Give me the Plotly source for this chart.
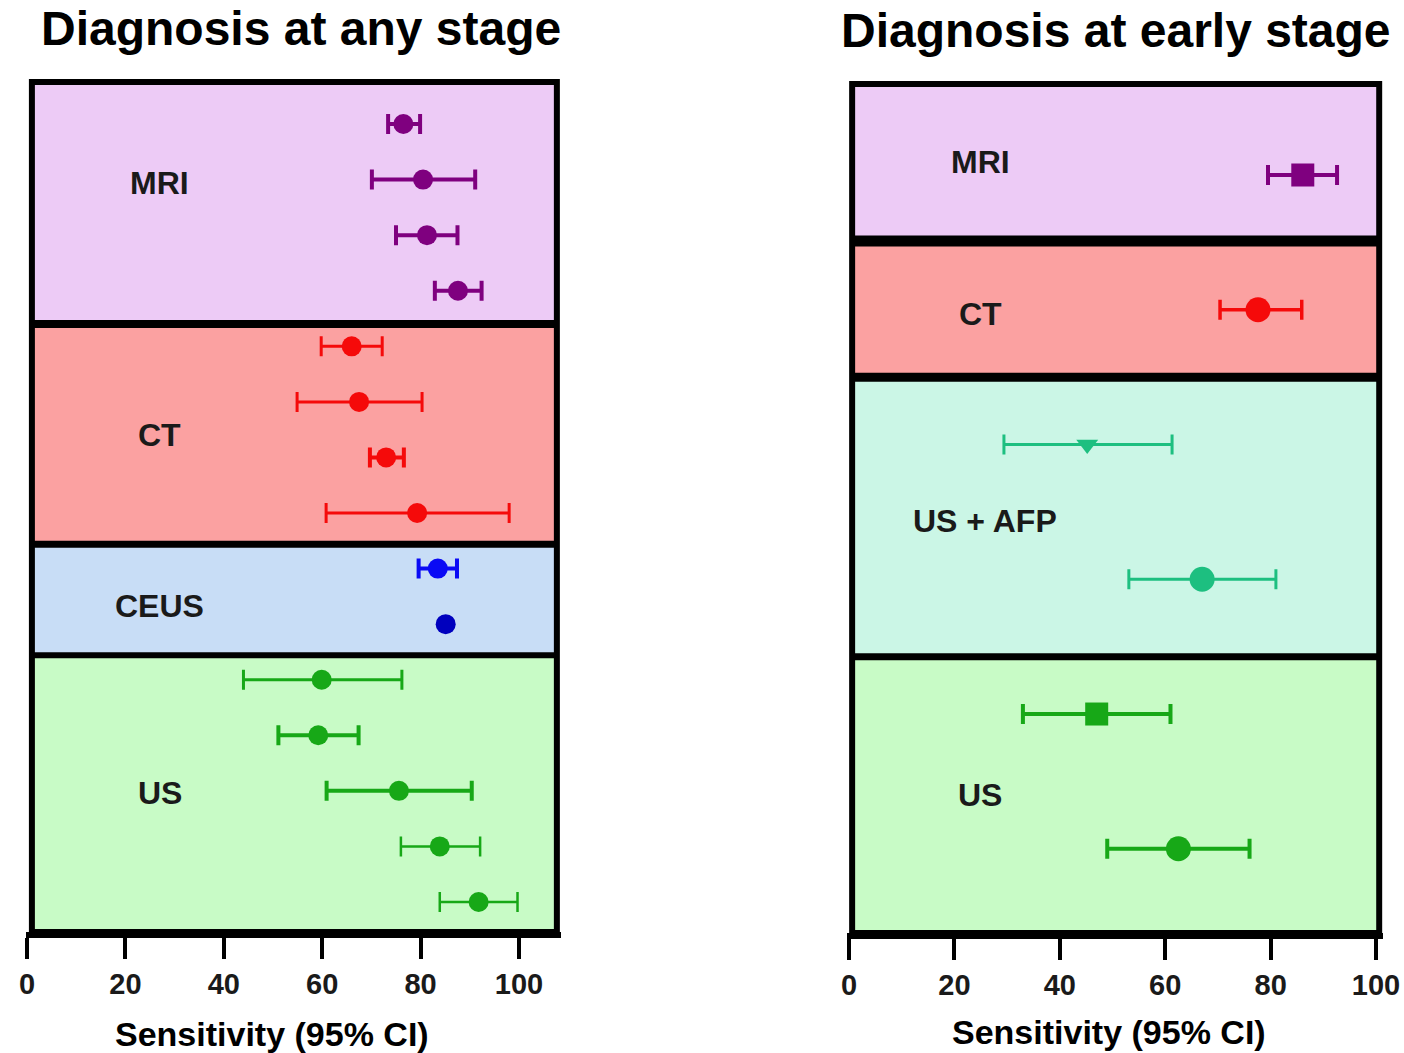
import plotly.graph_objects as go

# ---------------- DATA ----------------
# Left panel: Diagnosis at any stage (sensitivity, 95% CI)
MRI_ANY = [76.5, 80.5, 81.3, 87.6]
MRI_ANY_LO = [73.4, 70.1, 75.0, 82.9]
MRI_ANY_HI = [79.9, 91.1, 87.5, 92.4]

CT_ANY = [66.0, 67.5, 73.0, 79.3]
CT_ANY_LO = [59.8, 54.9, 69.7, 60.8]
CT_ANY_HI = [72.2, 80.3, 76.6, 98.0]

CEUS_ANY = [83.5, 85.1]
CEUS_ANY_LO = [79.6, None]
CEUS_ANY_HI = [87.4, None]

US_ANY = [59.9, 59.2, 75.6, 83.9, 91.8]
US_ANY_LO = [44.0, 51.1, 60.9, 76.0, 83.9]
US_ANY_HI = [76.2, 67.4, 90.4, 92.1, 99.7]

# Right panel: Diagnosis at early stage
MRI_EARLY = [86.1]
MRI_EARLY_LO = [79.5]
MRI_EARLY_HI = [92.6]

CT_EARLY = [77.6]
CT_EARLY_LO = [70.4]
CT_EARLY_HI = [85.9]

USAFP_EARLY = [45.2, 67.0]
USAFP_EARLY_LO = [29.4, 53.1]
USAFP_EARLY_HI = [61.3, 81.0]

US_EARLY = [47.0, 62.5]
US_EARLY_LO = [33.0, 49.0]
US_EARLY_HI = [61.0, 76.0]

TICK_VALUES = [0, 20, 40, 60, 80, 100]
TICK_LABELS = ["0", "20", "40", "60", "80", "100"]

# ---------------- STYLE ----------------
FONT = "Liberation Sans, Arial, sans-serif"
TXT = "#1a1a1a"
MRI_C, CT_C, US_C, AFP_C = "#7F007F", "#F50A0A", "#17A817", "#1DBF80"
CEUS_C = ["#0A0AF5", "#0000BE"]
MRI_BG, CT_BG, CEUS_BG, US_BG, AFP_BG = "#EDCBF6", "#FBA1A1", "#C8DDF6", "#C8FBC6", "#CBF6E6"

fig = go.Figure()


def add_point(xa, ya, row, val, lo, hi, color, symbol, size, thick):
    err = None
    if lo is not None and hi is not None:
        err = dict(type="data", symmetric=False, array=[hi - val], arrayminus=[val - lo],
                   color=color, thickness=thick, width=10)
    fig.add_trace(go.Scatter(
        x=[val], y=[row], mode="markers", xaxis=xa, yaxis=ya,
        marker=dict(color=color, symbol=symbol, size=size, line=dict(width=0)),
        error_x=err if err else dict(visible=False), showlegend=False,
        hoverinfo="x"))


# ----- left panel points -----
left_series = [
    (MRI_ANY, MRI_ANY_LO, MRI_ANY_HI, [MRI_C] * 4, [4, 4, 4, 4]),
    (CT_ANY, CT_ANY_LO, CT_ANY_HI, [CT_C] * 4, [3, 3, 4, 3]),
    (CEUS_ANY, CEUS_ANY_LO, CEUS_ANY_HI, CEUS_C, [4, 4]),
    (US_ANY, US_ANY_LO, US_ANY_HI, [US_C] * 5, [3, 4, 4, 2.5, 2.5]),
]
row = 0
for vals, los, his, cols, th in left_series:
    for v, lo, hi, c, t in zip(vals, los, his, cols, th):
        add_point("x", "y", row, v, lo, hi, c, "circle", 20, t)
        row += 1

# ----- right panel points -----
right_series = [
    (MRI_EARLY, MRI_EARLY_LO, MRI_EARLY_HI, MRI_C, ["square"], [23], 4),
    (CT_EARLY, CT_EARLY_LO, CT_EARLY_HI, CT_C, ["circle"], [25], 3.5),
    (USAFP_EARLY, USAFP_EARLY_LO, USAFP_EARLY_HI, AFP_C, ["triangle-down", "circle"], [19, 25], 3),
    (US_EARLY, US_EARLY_LO, US_EARLY_HI, US_C, ["square", "circle"], [23, 25], 4),
]
row = 0
for vals, los, his, c, syms, sizes, t in right_series:
    for v, lo, hi, s, sz in zip(vals, los, his, syms, sizes):
        add_point("x2", "y2", row, v, lo, hi, c, s, sz, t)
        row += 2

# ----- background boxes -----
shapes = []


def band(xref, yref, x0, x1, y0, y1, fill):
    shapes.append(dict(type="rect", xref=xref, yref=yref, x0=x0, x1=x1, y0=y0, y1=y1,
                       fillcolor=fill, line=dict(width=0), layer="below"))


def hline(xref, yref, x0, x1, y, w):
    shapes.append(dict(type="line", xref=xref, yref=yref, x0=x0, x1=x1, y0=y, y1=y,
                       line=dict(color="black", width=w), layer="below"))


def outer(xref, yref, x0, x1, y0, y1):
    shapes.append(dict(type="rect", xref=xref, yref=yref, x0=x0, x1=x1, y0=y0, y1=y1,
                       fillcolor="rgba(0,0,0,0)", line=dict(color="black", width=6), layer="below"))


# left bands (row units)
LX0, LX1 = 1.0, 107.7
lb = [-0.756, 3.6, 7.56, 9.56, 14.54]
for (a, b), f in zip(zip(lb[:-1], lb[1:]), [MRI_BG, CT_BG, CEUS_BG, US_BG]):
    band("x", "y", LX0, LX1, a, b, f)
for yb, w in zip(lb[1:-1], [8, 7, 6]):
    hline("x", "y", LX0, LX1, yb, w)
outer("x", "y", LX0, LX1, lb[0], lb[-1])

# right bands
RX0, RX1 = 0.6, 100.6
rb = [-1.35, 0.98, 3.0, 7.15, 11.25]
for (a, b), f in zip(zip(rb[:-1], rb[1:]), [MRI_BG, CT_BG, AFP_BG, US_BG]):
    band("x2", "y2", RX0, RX1, a, b, f)
for yb, w in zip(rb[1:-1], [11, 9, 7]):
    hline("x2", "y2", RX0, RX1, yb, w)
outer("x2", "y2", RX0, RX1, rb[0], rb[-1])

# ----- annotations -----
ann = []


def label(xref, yref, x, y, text, size=32):
    ann.append(dict(xref=xref, yref=yref, x=x, y=y, text=text, showarrow=False,
                    font=dict(family=FONT, size=size, color=TXT), xanchor="center", yanchor="middle"))


label("x", "y", 27.0, 1.06, "<b>MRI</b>")
label("x", "y", 27.0, 5.6, "<b>CT</b>")
label("x", "y", 27.0, 8.67, "<b>CEUS</b>")
label("x", "y", 27.0, 12.04, "<b>US</b>")

label("x2", "y2", 24.9, -0.19, "<b>MRI</b>")
label("x2", "y2", 24.9, 2.06, "<b>CT</b>")
label("x2", "y2", 25.8, 5.13, "<b>US + AFP</b>")
label("x2", "y2", 24.9, 9.2, "<b>US</b>")


def ptxt(x, y, text, size):
    ann.append(dict(xref="paper", yref="paper", x=x / 1404, y=1 - y / 1053, text=text,
                    showarrow=False, font=dict(family=FONT, size=size, color="black"),
                    xanchor="center", yanchor="middle"))


ptxt(301, 29, "<b>Diagnosis at any stage</b>", 48)
ptxt(1116, 31, "<b>Diagnosis at early stage</b>", 48)
ptxt(272, 1034, "<b>Sensitivity (95% CI)</b>", 34)
ptxt(1109, 1032, "<b>Sensitivity (95% CI)</b>", 34)

# ----- axes -----
xcommon = dict(tickmode="array", tickvals=TICK_VALUES,
               ticktext=["<b>%s</b>" % t for t in TICK_LABELS],
               showgrid=False, zeroline=False, showline=True, linecolor="black", linewidth=6,
               ticks="outside", ticklen=21, tickwidth=4, tickcolor="black", automargin=False,
               tickfont=dict(family=FONT, size=29, color=TXT), fixedrange=True)
ycommon = dict(showgrid=False, zeroline=False, showline=False, showticklabels=False,
               ticks="", fixedrange=True, automargin=False)

fig.update_layout(
    width=1404, height=1053, autosize=False,
    margin=dict(l=0, r=0, t=0, b=0, pad=0, autoexpand=False),
    paper_bgcolor="white", plot_bgcolor="rgba(0,0,0,0)",
    xaxis=dict(domain=[25.5 / 1404, 561.3 / 1404], range=[-0.3, 108.6], anchor="y", **xcommon),
    yaxis=dict(domain=[1 - 932 / 1053, 1 - 76.8 / 1053], range=[14.54, -0.85], anchor="x", **ycommon),
    xaxis2=dict(domain=[847.4 / 1404, 1382.9 / 1404], range=[-0.3, 101.3], anchor="y2", **xcommon),
    yaxis2=dict(domain=[1 - 933 / 1053, 1 - 77.3 / 1053], range=[11.25, -1.45], anchor="x2", **ycommon),
    shapes=shapes, annotations=ann,
    font=dict(family=FONT),
)

fig.write_html(
    "out.html",
    config={"responsive": False, "displayModeBar": False},
    post_script="document.body.style.margin='0';document.body.style.overflow='hidden';",
)
